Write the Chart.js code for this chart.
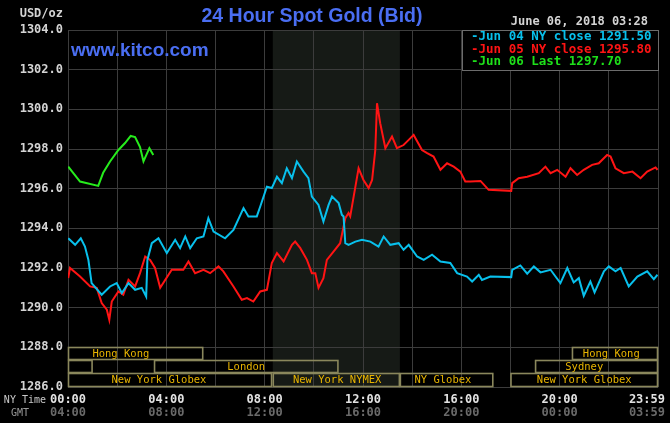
<!DOCTYPE html>
<html>
<head>
<meta charset="utf-8">
<script src="https://cdn.jsdelivr.net/npm/chart.js@4.4.1/dist/chart.umd.min.js"></script>
<style>
  body { margin: 0; background: #000; }
  #wrap { width: 670px; height: 423px; }
</style>
</head>
<body>
<div id="wrap"><canvas id="goldChart" width="670" height="423"></canvas></div>
<script>
// hours after NY midnight, and bid in USD/oz
const blueHours = [0.01, 0.29, 0.52, 0.69, 0.83, 0.96, 1.37, 1.71, 1.98, 2.19, 2.46, 2.73, 3.0, 3.18, 3.23, 3.41, 3.68, 4.02, 4.36, 4.56, 4.77, 4.97, 5.24, 5.51, 5.71, 5.92, 6.39, 6.73, 7.14, 7.34, 7.68, 7.82, 8.09, 8.29, 8.5, 8.7, 8.9, 9.11, 9.31, 9.58, 9.78, 9.92, 10.19, 10.39, 10.6, 10.74, 11.01, 11.14, 11.21, 11.28, 11.41, 11.69, 11.96, 12.3, 12.63, 12.84, 13.11, 13.45, 13.65, 13.86, 14.2, 14.47, 14.81, 15.15, 15.55, 15.83, 16.23, 16.44, 16.71, 16.84, 17.18, 18.03, 18.07, 18.4, 18.68, 18.95, 19.22, 19.63, 19.83, 20.03, 20.31, 20.57, 20.78, 20.98, 21.25, 21.42, 21.8, 22.0, 22.27, 22.48, 22.81, 23.16, 23.56, 23.83, 23.98];
const blueValues = [1293.5, 1293.17, 1293.5, 1293.08, 1292.4, 1291.24, 1290.65, 1291.07, 1291.24, 1290.74, 1291.24, 1290.9, 1291.0, 1290.56, 1292.41, 1293.25, 1293.5, 1292.75, 1293.42, 1293.0, 1293.59, 1293.0, 1293.5, 1293.59, 1294.51, 1293.84, 1293.5, 1293.92, 1295.02, 1294.6, 1294.6, 1295.1, 1296.1, 1296.03, 1296.6, 1296.28, 1297.03, 1296.53, 1297.37, 1296.86, 1296.53, 1295.6, 1295.18, 1294.34, 1295.18, 1295.6, 1295.27, 1294.68, 1294.6, 1293.25, 1293.17, 1293.33, 1293.42, 1293.33, 1293.08, 1293.59, 1293.17, 1293.25, 1292.92, 1293.17, 1292.58, 1292.41, 1292.67, 1292.33, 1292.25, 1291.74, 1291.57, 1291.32, 1291.66, 1291.4, 1291.57, 1291.54, 1291.91, 1292.13, 1291.71, 1292.08, 1291.78, 1291.91, 1291.57, 1291.24, 1292.0, 1291.27, 1291.49, 1290.6, 1291.32, 1290.77, 1291.83, 1292.08, 1291.83, 1292.0, 1291.07, 1291.57, 1291.83, 1291.44, 1291.66];

const redHours = [0.01, 0.08, 0.49, 0.9, 1.17, 1.37, 1.58, 1.68, 1.78, 2.05, 2.25, 2.46, 2.73, 2.93, 3.14, 3.34, 3.54, 3.75, 4.22, 4.69, 4.9, 5.17, 5.51, 5.78, 6.12, 6.32, 6.73, 7.07, 7.28, 7.54, 7.82, 8.09, 8.29, 8.5, 8.77, 9.11, 9.24, 9.45, 9.72, 9.92, 10.06, 10.19, 10.39, 10.53, 10.8, 11.07, 11.28, 11.41, 11.48, 11.62, 11.82, 12.02, 12.23, 12.37, 12.5, 12.57, 12.7, 12.91, 13.18, 13.38, 13.65, 13.86, 14.06, 14.4, 14.61, 14.87, 15.15, 15.42, 15.69, 15.96, 16.16, 16.37, 16.78, 17.11, 18.03, 18.07, 18.33, 18.68, 19.15, 19.42, 19.63, 19.9, 20.24, 20.44, 20.71, 20.98, 21.32, 21.59, 21.93, 22.07, 22.27, 22.61, 22.96, 23.29, 23.56, 23.9, 23.98];
const redValues = [1291.49, 1292.0, 1291.57, 1291.07, 1291.0, 1290.23, 1289.9, 1289.39, 1290.31, 1290.82, 1290.65, 1291.4, 1291.07, 1291.74, 1292.58, 1292.41, 1292.0, 1291.0, 1291.91, 1291.91, 1292.33, 1291.74, 1291.91, 1291.74, 1292.08, 1291.83, 1291.07, 1290.4, 1290.48, 1290.31, 1290.82, 1290.9, 1292.25, 1292.75, 1292.33, 1293.17, 1293.33, 1293.0, 1292.41, 1291.74, 1291.74, 1291.0, 1291.49, 1292.41, 1292.83, 1293.25, 1294.51, 1294.77, 1294.6, 1295.6, 1297.03, 1296.44, 1296.03, 1296.44, 1297.95, 1300.31, 1299.3, 1298.04, 1298.63, 1298.04, 1298.2, 1298.46, 1298.71, 1297.95, 1297.79, 1297.62, 1296.95, 1297.28, 1297.11, 1296.86, 1296.36, 1296.36, 1296.39, 1295.94, 1295.89, 1296.28, 1296.53, 1296.6, 1296.78, 1297.11, 1296.78, 1296.95, 1296.6, 1297.03, 1296.69, 1296.95, 1297.2, 1297.28, 1297.7, 1297.62, 1297.03, 1296.78, 1296.86, 1296.53, 1296.86, 1297.07, 1296.95];

const greenHours = [0.01, 0.49, 1.23, 1.43, 1.71, 2.05, 2.32, 2.55, 2.73, 2.93, 3.07, 3.31, 3.47];
const greenValues = [1297.11, 1296.36, 1296.14, 1296.8, 1297.37, 1297.95, 1298.3, 1298.66, 1298.6, 1298.1, 1297.37, 1298.04, 1297.7];

const legendLines = ["-Jun 04 NY close 1291.50", "-Jun 05 NY close 1295.80", "-Jun 06 Last 1297.70"];

const nyTimeLabels = ["00:00", "04:00", "08:00", "12:00", "16:00", "20:00", "23:59"];
const gmtTimeLabels = ["04:00", "08:00", "12:00", "16:00", "20:00", "00:00", "03:59"];
const timeLabelHours = [0, 4, 8, 12, 16, 20, 24];

// trading sessions: row, start hour, end hour, label, label centre hour
const sessions = [
  [0, 0, 5.5, "Hong Kong", 2.15],
  [0, 20.5, 24, "Hong Kong", 22.1],
  [1, 0, 1, "", 0],
  [1, 3.5, 11, "London", 7.25],
  [1, 19, 24, "Sydney", 21.0],
  [2, 0, 8.3, "New York Globex", 3.7],
  [2, 8.33, 13.5, "New York NYMEX", 10.95],
  [2, 13.5, 17.3, "NY Globex", 15.25],
  [2, 18, 24, "New York Globex", 21.0]
];
const nymexStart = 8.33;
const nymexEnd = 13.5;

const colors = {
  blue: "#08c0ec",
  red: "#ff1414",
  green: "#26ec1c",
  grid: "#3c3c3c",
  shade: "#161a16",
  box: "#8a875c",
  boxText: "#e8b400"
};

const mono = "'DejaVu Sans Mono', monospace";

function pts(hours, values) {
  return hours.map((h, i) => ({x: h, y: values[i]}));
}

const kitcoPlugin = {
  id: 'kitco',
  beforeDraw(chart) {
    const {ctx, chartArea: a, scales: {x}} = chart;
    ctx.save();
    ctx.fillStyle = "#000";
    ctx.fillRect(0, 0, chart.width, chart.height);
    ctx.fillStyle = colors.shade;
    const x0 = x.getPixelForValue(nymexStart), x1 = x.getPixelForValue(nymexEnd);
    ctx.fillRect(x0, a.top, x1 - x0, a.bottom - a.top);
    ctx.restore();
  },
  afterDraw(chart) {
    const {ctx, chartArea: a, scales: {x}} = chart;
    ctx.save();

    // title and site
    ctx.fillStyle = "#4a6ef2";
    ctx.textAlign = "center";
    ctx.textBaseline = "middle";
    ctx.font = "bold 19.5px 'Liberation Sans', Arial, sans-serif";
    ctx.fillText("24 Hour Spot Gold (Bid)", 312, 17);
    ctx.textAlign = "left";
    ctx.font = "bold 19px 'Liberation Sans', Arial, sans-serif";
    ctx.fillText("www.kitco.com", 71, 51);

    ctx.fillStyle = "#d4d4d4";
    ctx.font = "bold 12px " + mono;
    ctx.textAlign = "right";
    ctx.fillText("June 06, 2018 03:28", 648, 22);
    ctx.fillText("USD/oz", 63, 14);

    // legend box
    ctx.fillStyle = "#000";
    ctx.fillRect(462, a.top, a.right - 462, 40);
    ctx.strokeStyle = "#6c6c6c";
    ctx.lineWidth = 1;
    ctx.strokeRect(462.5, a.top + 0.5, a.right - 462, 40);
    ctx.font = "bold 12.5px " + mono;
    ctx.textAlign = "left";
    [colors.blue, colors.red, "#1ee01a"].forEach((c, i) => {
      ctx.fillStyle = c;
      ctx.fillText(legendLines[i], 471, 37 + i * 12.5);
    });

    // session boxes
    const rowTop = [347, 360, 373];
    const rowBot = [360, 373, a.bottom];
    ctx.strokeStyle = colors.box;
    ctx.lineWidth = 1.6;
    ctx.font = "10.5px " + mono;
    ctx.textAlign = "center";
    sessions.forEach(([row, s, e, label, lh]) => {
      const px0 = x.getPixelForValue(s), px1 = x.getPixelForValue(e);
      ctx.strokeRect(px0 + 0.5, rowTop[row] + 0.5, px1 - px0 - 1, rowBot[row] - rowTop[row] - 1);
      if (label) {
        ctx.fillStyle = colors.boxText;
        ctx.fillText(label, x.getPixelForValue(lh), (rowTop[row] + rowBot[row]) / 2 + 0.5);
      }
    });

    // time axis labels
    ctx.font = "10px " + mono;
    ctx.textAlign = "right";
    ctx.fillStyle = "#c8c8c8";
    ctx.fillText("NY Time", 46, 400);
    ctx.fillStyle = "#9a9a9a";
    ctx.fillText("GMT", 29, 413);
    ctx.font = "bold 12px " + mono;
    timeLabelHours.forEach((h, i) => {
      let px = x.getPixelForValue(h);
      ctx.textAlign = "center";
      if (h === 24) { ctx.textAlign = "right"; px = 665; }
      ctx.fillStyle = "#e2e2e2";
      ctx.fillText(nyTimeLabels[i], px, 400);
      ctx.fillStyle = "#6a6a6a";
      ctx.fillText(gmtTimeLabels[i], px, 413);
    });
    ctx.restore();
  }
};

const lineStyle = {
  borderWidth: 2,
  pointRadius: 0,
  tension: 0,
  fill: false
};

new Chart(document.getElementById("goldChart"), {
  type: "line",
  data: {
    datasets: [
      Object.assign({label: "Jun 04", data: pts(blueHours, blueValues), borderColor: colors.blue}, lineStyle),
      Object.assign({label: "Jun 05", data: pts(redHours, redValues), borderColor: colors.red}, lineStyle),
      Object.assign({label: "Jun 06", data: pts(greenHours, greenValues), borderColor: colors.green}, lineStyle)
    ]
  },
  options: {
    responsive: false,
    animation: false,
    layout: {padding: {top: 30, right: 12, left: 0, bottom: 0}},
    plugins: {
      legend: {display: false},
      tooltip: {enabled: false}
    },
    scales: {
      x: {
        type: "linear",
        min: 0,
        max: 24,
        ticks: {display: false, stepSize: 2},
        grid: {color: colors.grid, drawTicks: false},
        border: {display: false},
        afterFit: (axis) => { axis.height = 36; }
      },
      y: {
        min: 1286,
        max: 1304,
        ticks: {
          stepSize: 2,
          padding: 5,
          color: "#d4d4d4",
          font: {family: mono, size: 12, weight: "bold"},
          callback: (v) => v.toFixed(1)
        },
        grid: {color: colors.grid, drawTicks: false},
        border: {display: false},
        afterFit: (axis) => { axis.width = 68; }
      }
    }
  },
  plugins: [kitcoPlugin]
});
</script>
</body>
</html>
